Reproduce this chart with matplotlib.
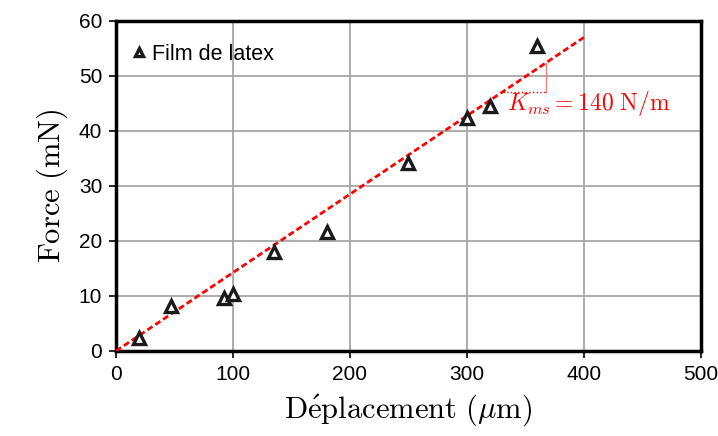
import numpy as np
import matplotlib
matplotlib.use("Agg")
import matplotlib.pyplot as plt

plt.rcParams['mathtext.fontset'] = 'cm'
plt.rcParams['font.family'] = ['Liberation Sans', 'DejaVu Sans']

# data
depl = [20, 47, 92, 100, 135, 180, 250, 300, 320, 360]
force = [2.3, 8.2, 9.6, 10.3, 18.0, 21.6, 34.2, 42.4, 44.5, 55.4]
slope = 0.1425   # mN / um  (= 140 N/m)
fit_x = [0, 400]
x_ticks = [0, 100, 200, 300, 400, 500]
y_ticks = [0, 10, 20, 30, 40, 50, 60]

fig = plt.figure(figsize=(7.18, 4.36), dpi=100)
ax = fig.add_axes([0.1616, 0.195, 0.8144, 0.757])

ax.grid(True, color='#a6a6a6', linewidth=1.3)
ax.set_axisbelow(True)

fx = np.array(fit_x)
ax.plot(fx, slope * fx, color='red', linestyle=(0, (2.2, 1.2)), linewidth=2, zorder=3)
ax.plot(depl, force, linestyle='none', marker='^', markersize=8, markerfacecolor='white',
        markeredgecolor='#1a1a1a', markeredgewidth=2.4, label='Film de latex', zorder=4)

# slope triangle
x1, x2 = 331, 367.5
ax.plot([x1, x2], [slope * x1, slope * x1], color='red', linestyle=':', linewidth=1, zorder=3)
ax.plot([x2, x2], [slope * x1, slope * x2], color='#f08080', linewidth=1, zorder=3)
ax.text(334, 45, r'$K_{ms} = 140\ \mathrm{N/m}$', color='red', fontsize=17,
        va='center', ha='left')

ax.set_xlim(0, 500)
ax.set_ylim(0, 60)
ax.set_xticks(x_ticks)
ax.set_yticks(y_ticks)
ax.tick_params(labelsize=15, length=5, width=1.2, direction='out', pad=5)
for s in ax.spines.values():
    s.set_linewidth(2.5)

ax.set_xlabel(r'$\mathrm{D\acute{e}placement\ (}\mu\mathrm{m)}$', fontsize=22, labelpad=6)
ax.set_ylabel(r'$\mathrm{Force\ (mN)}$', fontsize=22, labelpad=6)

ax.legend(loc='upper left', frameon=False, fontsize=15.5, handletextpad=0.1,
          handlelength=1.0, markerscale=0.75, borderaxespad=0.5,
          bbox_to_anchor=(-0.012, 0.99))

fig.savefig('out.png', dpi=100)
